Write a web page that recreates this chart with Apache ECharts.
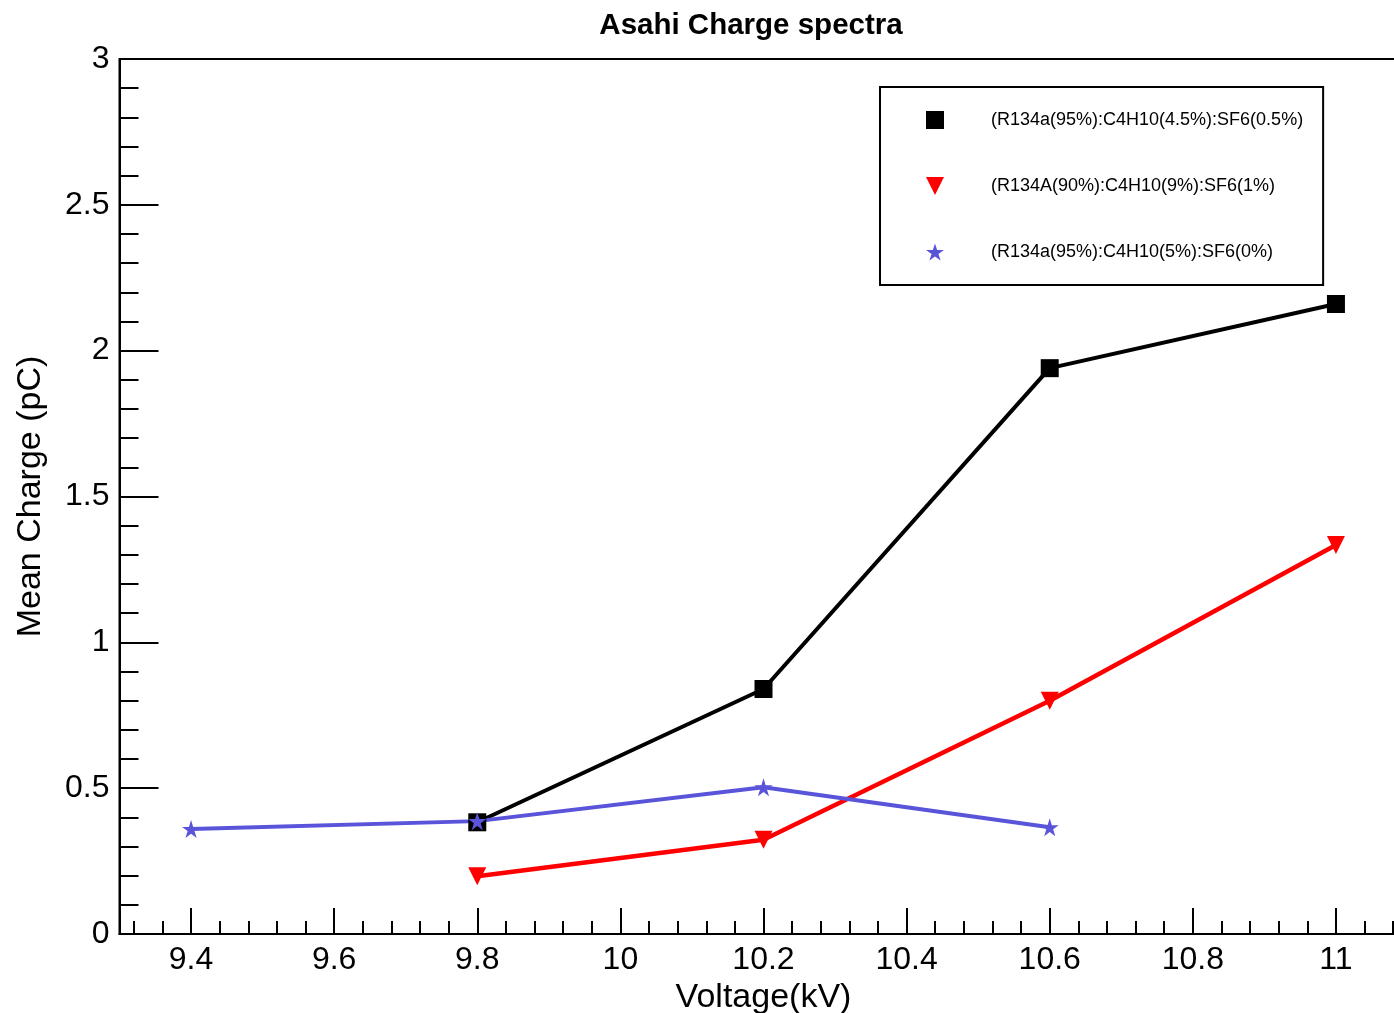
<!DOCTYPE html>
<html>
<head>
<meta charset="utf-8">
<title>Asahi Charge spectra</title>
<script src="https://cdn.jsdelivr.net/npm/echarts@6/dist/echarts.min.js"></script>
<style>
  html, body { margin: 0; padding: 0; background: #fff; }
  #chart { width: 1394px; height: 1013px; }
</style>
</head>
<body>
<div id="chart"></div>
<script>
// Applied voltage (kV)
const voltageA = [9.8, 10.2, 10.6, 11.0];          // R134a 95 / C4H10 4.5 / SF6 0.5
const voltageB = [9.8, 10.2, 10.6, 11.0];          // R134A 90 / C4H10 9 / SF6 1
const voltageC = [9.4, 9.8, 10.2, 10.6];           // R134a 95 / C4H10 5 / SF6 0

// Mean charge (pC)
const chargeA = [0.383, 0.84, 1.94, 2.16];
const chargeB = [0.198, 0.323, 0.80, 1.334];
const chargeC = [0.36, 0.387, 0.503, 0.366];

const seriesNames = [
  '(R134a(95%):C4H10(4.5%):SF6(0.5%)',
  '(R134A(90%):C4H10(9%):SF6(1%)',
  '(R134a(95%):C4H10(5%):SF6(0%)'
];

// Tick positions on the voltage axis (major every 0.2 kV, minor every 0.04 kV)
const xMajorTicks = [9.4, 9.6, 9.8, 10.0, 10.2, 10.4, 10.6, 10.8, 11.0];
const xMinorTicks = [];
for (let k = 233; k <= 277; k++) {
  if (k % 5 !== 0) xMinorTicks.push(k * 0.04);
}

const FONT = 'Liberation Sans, Arial, Helvetica, sans-serif';
const STAR = 'path://M0,-10L2.245,-3.09L9.51,-3.09L3.633,1.18L5.878,8.09L0,3.82L-5.878,8.09L-3.633,1.18L-9.51,-3.09L-2.245,-3.09Z';
const TRI_DOWN = 'path://M0,0L10,0L5,10Z';

const zip = (xs, ys) => xs.map((x, i) => [x, ys[i]]);

const chart = echarts.init(document.getElementById('chart'), null, { renderer: 'canvas' });

chart.setOption({
  backgroundColor: '#ffffff',
  animation: false,
  title: {
    text: 'Asahi Charge spectra',
    left: 746,
    top: 6,
    textAlign: 'center',
    textStyle: { fontFamily: FONT, fontSize: 29.5, fontWeight: 'bold', color: '#000' }
  },
  legend: {
    orient: 'vertical',
    left: 880,
    top: 87,
    padding: [24, 20, 24, 46],
    itemGap: 48,
    itemWidth: 18,
    itemHeight: 18,
    borderColor: '#000',
    borderWidth: 2,
    backgroundColor: '#fff',
    textStyle: { fontFamily: FONT, fontSize: 18, color: '#000', padding: [0, 0, 0, 42] },
    data: [
      { name: seriesNames[0], icon: 'rect' },
      { name: seriesNames[1], icon: TRI_DOWN },
      { name: seriesNames[2], icon: STAR }
    ]
  },
  grid: {
    left: 119.5,
    top: 59,
    width: 1288,
    bottom: 79,
    show: true,
    borderColor: '#000',
    borderWidth: 2,
    containLabel: false,
    outerBoundsMode: 'none'
  },
  xAxis: [
    {
      type: 'value',
      min: 9.3,
      max: 11.1,
      position: 'bottom',
      name: 'Voltage(kV)',
      nameLocation: 'middle',
      nameGap: 42,
      nameTextStyle: { fontFamily: FONT, fontSize: 34, color: '#000' },
      splitLine: { show: false },
      axisLine: { onZero: false, lineStyle: { color: '#000', width: 2 } },
      axisTick: {
        inside: true, length: 26, customValues: xMajorTicks,
        lineStyle: { color: '#000', width: 2 }
      },
      axisLabel: {
        customValues: xMajorTicks,
        margin: 10,
        fontFamily: FONT, fontSize: 32, color: '#000',
        formatter: v => String(Math.round(v * 10) / 10)
      }
    },
    {
      type: 'value',
      min: 9.3,
      max: 11.1,
      position: 'bottom',
      splitLine: { show: false },
      axisLine: { show: false },
      axisLabel: { show: false },
      axisTick: {
        inside: true, length: 13, customValues: xMinorTicks,
        lineStyle: { color: '#000', width: 2 }
      }
    }
  ],
  yAxis: {
    type: 'value',
    min: 0,
    max: 3,
    interval: 0.5,
    name: 'Mean Charge (pC)',
    nameLocation: 'middle',
    nameRotate: 90,
    nameGap: 72,
    nameTextStyle: { fontFamily: FONT, fontSize: 34, color: '#000' },
    splitLine: { show: false },
    axisLine: { onZero: false, lineStyle: { color: '#000', width: 2 } },
    axisTick: { inside: true, length: 39, lineStyle: { color: '#000', width: 2 } },
    minorTick: { show: true, splitNumber: 5, length: 19, lineStyle: { color: '#000', width: 2 } },
    axisLabel: { margin: 10, fontFamily: FONT, fontSize: 32, color: '#000' }
  },
  series: [
    {
      name: seriesNames[0],
      type: 'line',
      xAxisIndex: 0,
      data: zip(voltageA, chargeA),
      symbol: 'rect',
      symbolSize: 18,
      lineStyle: { color: '#000', width: 4 },
      itemStyle: { color: '#000' }
    },
    {
      name: seriesNames[1],
      type: 'line',
      xAxisIndex: 0,
      data: zip(voltageB, chargeB),
      symbol: TRI_DOWN,
      symbolSize: 18,
      lineStyle: { color: '#ff0000', width: 4.5 },
      itemStyle: { color: '#ff0000' }
    },
    {
      name: seriesNames[2],
      type: 'line',
      xAxisIndex: 0,
      data: zip(voltageC, chargeC),
      symbol: STAR,
      symbolSize: 18,
      lineStyle: { color: '#5954d9', width: 4 },
      itemStyle: { color: '#5954d9' }
    }
  ]
});
</script>
</body>
</html>
